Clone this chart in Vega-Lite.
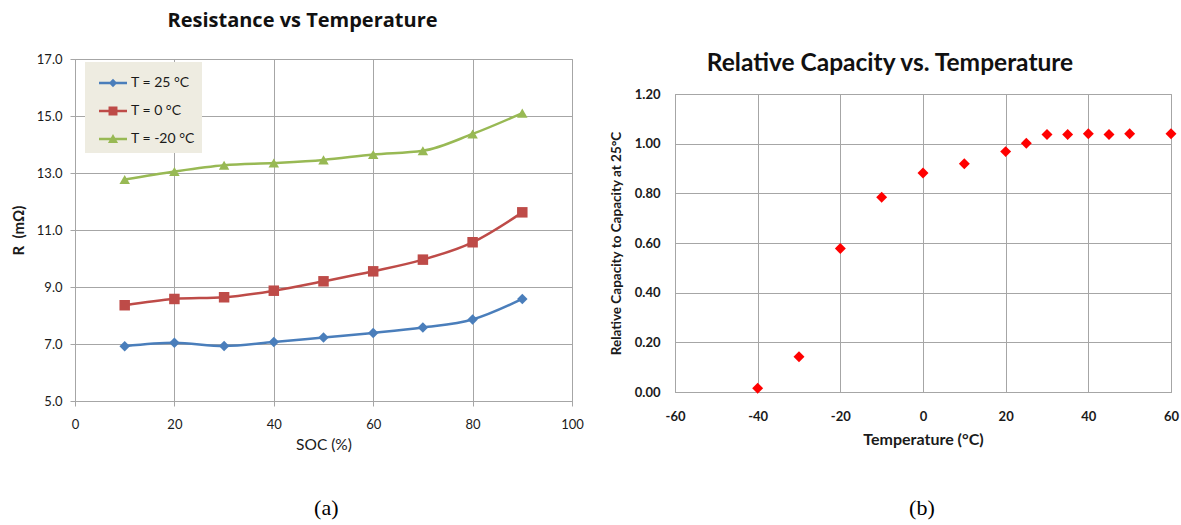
{
  "$schema": "https://vega.github.io/schema/vega-lite/v6.json",
  "background": "white",
  "padding": {"left": 10, "top": 3, "right": 1, "bottom": 1},
  "spacing": 24,
  "config": {
    "font": "Lato",
    "view": {"stroke": "#a6a6a6", "strokeWidth": 1},
    "axis": {"gridColor": "#a6a6a6", "domainColor": "#a6a6a6", "tickColor": "#a6a6a6", "gridOpacity": 1, "labelColor": "#1a1a1a", "titleColor": "#1a1a1a", "labelFont": "Lato", "titleFont": "Lato", "labelFlush": false}
  },
  "hconcat": [
    {
      "title": {"text": "(a)", "orient": "bottom", "font": "Liberation Serif", "fontSize": 22, "fontWeight": "normal", "offset": 45, "anchor": "middle", "dx": 29, "color": "#000"},
      "spacing": 0,
      "vconcat": [
        {
          "width": 497,
          "height": 1,
          "view": {"stroke": null},
          "data": {"values": [{}]},
          "mark": {"type": "point", "opacity": 0}
        },
        {
          "width": 497,
          "height": 342,
          "title": {"text": "Resistance vs Temperature", "fontSize": 20, "fontWeight": "bold", "offset": 22, "color": "#111", "font": "Open Sans", "anchor": "middle", "frame": "group", "dx": -21},
          "data": {"values": [
            {"soc": 10, "r": 6.92, "series": "T = 25 °C"},
            {"soc": 20, "r": 7.04, "series": "T = 25 °C"},
            {"soc": 30, "r": 6.93, "series": "T = 25 °C"},
            {"soc": 40, "r": 7.07, "series": "T = 25 °C"},
            {"soc": 50, "r": 7.23, "series": "T = 25 °C"},
            {"soc": 60, "r": 7.39, "series": "T = 25 °C"},
            {"soc": 70, "r": 7.58, "series": "T = 25 °C"},
            {"soc": 80, "r": 7.86, "series": "T = 25 °C"},
            {"soc": 90, "r": 8.58, "series": "T = 25 °C"},
            {"soc": 10, "r": 8.36, "series": "T = 0 °C"},
            {"soc": 20, "r": 8.58, "series": "T = 0 °C"},
            {"soc": 30, "r": 8.64, "series": "T = 0 °C"},
            {"soc": 40, "r": 8.87, "series": "T = 0 °C"},
            {"soc": 50, "r": 9.2, "series": "T = 0 °C"},
            {"soc": 60, "r": 9.55, "series": "T = 0 °C"},
            {"soc": 70, "r": 9.96, "series": "T = 0 °C"},
            {"soc": 80, "r": 10.57, "series": "T = 0 °C"},
            {"soc": 90, "r": 11.62, "series": "T = 0 °C"},
            {"soc": 10, "r": 12.77, "series": "T = -20 °C"},
            {"soc": 20, "r": 13.05, "series": "T = -20 °C"},
            {"soc": 30, "r": 13.27, "series": "T = -20 °C"},
            {"soc": 40, "r": 13.35, "series": "T = -20 °C"},
            {"soc": 50, "r": 13.46, "series": "T = -20 °C"},
            {"soc": 60, "r": 13.65, "series": "T = -20 °C"},
            {"soc": 70, "r": 13.78, "series": "T = -20 °C"},
            {"soc": 80, "r": 14.37, "series": "T = -20 °C"},
            {"soc": 90, "r": 15.1, "series": "T = -20 °C"}
          ]},
          "encoding": {
            "x": {"field": "soc", "type": "quantitative", "scale": {"domain": [0, 100], "nice": false},
              "axis": {"values": [0, 20, 40, 60, 80, 100], "title": "SOC (%)", "labelFontSize": 13, "titleFontSize": 15.5, "titleFontWeight": "normal", "tickSize": 5, "labelPadding": 12, "titlePadding": 6}},
            "y": {"field": "r", "type": "quantitative", "scale": {"domain": [5, 17], "nice": false},
              "axis": {"values": [5, 7, 9, 11, 13, 15, 17], "format": ".1f", "title": "R \u00a0(mΩ)", "labelFontSize": 13, "titleFontSize": 15, "titleFontWeight": "bold", "tickSize": 5, "labelPadding": 8, "titlePadding": 10}}
          },
          "layer": [
            {
              "mark": {"type": "line", "interpolate": "monotone", "strokeWidth": 2.5},
              "encoding": {
                "color": {"field": "series", "type": "nominal",
                  "scale": {"domain": ["T = 25 °C", "T = 0 °C", "T = -20 °C"], "range": ["#4A7EBB", "#BE4B48", "#98B954"]},
                  "legend": null}
              }
            },
            {
              "mark": {"type": "point", "filled": true, "opacity": 1, "size": 110, "strokeWidth": 0},
              "encoding": {
                "color": {"field": "series", "type": "nominal",
                  "scale": {"domain": ["T = 25 °C", "T = 0 °C", "T = -20 °C"], "range": ["#4A7EBB", "#BE4B48", "#98B954"]},
                  "legend": null},
                "shape": {"field": "series", "type": "nominal",
                  "scale": {"domain": ["T = 25 °C", "T = 0 °C", "T = -20 °C"], "range": ["diamond", "square", "triangle-up"]},
                  "legend": null}
              }
            },
            {
              "data": {"values": []},
              "mark": {"type": "point", "filled": true, "opacity": 1, "size": 784, "strokeWidth": 0},
              "encoding": {
                "color": {"field": "series", "type": "nominal",
                  "scale": {"domain": ["T = 25 °C", "T = 0 °C", "T = -20 °C"], "range": ["#4A7EBB", "#BE4B48", "#98B954"]},
                  "legend": {"title": null, "orient": "none", "legendX": 10, "legendY": 3, "direction": "vertical", "fillColor": "#EEECE1", "padding": 7, "symbolOffset": 7, "labelFontSize": 14, "labelFont": "Lato", "labelColor": "#1a1a1a", "symbolSize": 784, "rowPadding": 7, "labelOffset": 4, "symbolStrokeWidth": 0, "symbolOpacity": 1}},
                "shape": {"field": "series", "type": "nominal",
                  "scale": {"domain": ["T = 25 °C", "T = 0 °C", "T = -20 °C"], "range": ["M-1,-0.09H1V0.09H-1ZM0,-0.3L0.3,0L0,0.3L-0.3,0Z", "M-1,-0.09H1V0.09H-1ZM-0.32,-0.32H0.32V0.32H-0.32Z", "M-1,-0.09H1V0.09H-1ZM0,-0.36L0.36,0.28H-0.36Z"]},
                  "legend": {"title": null, "orient": "none", "legendX": 10, "legendY": 3, "direction": "vertical", "fillColor": "#EEECE1", "padding": 7, "symbolOffset": 7, "labelFontSize": 14, "labelFont": "Lato", "labelColor": "#1a1a1a", "symbolSize": 784, "rowPadding": 7, "labelOffset": 4, "symbolStrokeWidth": 0, "symbolOpacity": 1}}
              }
            }
          ],
          "resolve": {"scale": {"shape": "independent", "color": "independent"}}
        }
      ]
    },
    {
      "title": {"text": "(b)", "orient": "bottom", "font": "Liberation Serif", "fontSize": 22, "fontWeight": "normal", "offset": 50, "anchor": "middle", "dx": 28, "color": "#000"},
      "spacing": 40,
      "vconcat": [
        {
          "width": 496,
          "height": 1,
          "view": {"stroke": null},
          "data": {"values": [{}]},
          "mark": {"type": "point", "opacity": 0}
        },
        {
          "width": 496,
          "height": 298,
          "title": {"text": "Relative Capacity vs. Temperature", "fontSize": 24.5, "fontWeight": "bold", "offset": 12, "color": "#111", "font": "Lato", "anchor": "middle", "frame": "group", "dx": -33},
          "data": {"values": [
            {"temp": -40, "cap": 0.015},
            {"temp": -30, "cap": 0.142},
            {"temp": -20, "cap": 0.578},
            {"temp": -10, "cap": 0.784},
            {"temp": 0, "cap": 0.882},
            {"temp": 10, "cap": 0.919},
            {"temp": 20, "cap": 0.968},
            {"temp": 25, "cap": 1.002},
            {"temp": 30, "cap": 1.037},
            {"temp": 35, "cap": 1.037},
            {"temp": 40, "cap": 1.04},
            {"temp": 45, "cap": 1.037},
            {"temp": 50, "cap": 1.04},
            {"temp": 60, "cap": 1.04}
          ]},
          "mark": {"type": "point", "shape": "diamond", "filled": true, "color": "#FF0000", "size": 120, "opacity": 1},
          "encoding": {
            "x": {"field": "temp", "type": "quantitative", "scale": {"domain": [-60, 60], "nice": false},
              "axis": {"values": [-60, -40, -20, 0, 20, 40, 60], "labelExpr": "replace(datum.label, '−', '-')", "title": "Temperature (°C)", "ticks": false, "labelFontSize": 13, "labelFontWeight": "bold", "titleFontSize": 16, "titleFontWeight": "bold", "labelPadding": 18, "titlePadding": 8}},
            "y": {"field": "cap", "type": "quantitative", "scale": {"domain": [0, 1.2], "nice": false},
              "axis": {"values": [0, 0.2, 0.4, 0.6, 0.8, 1.0, 1.2], "format": ".2f", "title": "Relative Capacity to Capacity at 25°C", "ticks": false, "labelFontSize": 13, "labelFontWeight": "bold", "titleFontSize": 13.5, "titleFontWeight": "bold", "labelPadding": 15, "titlePadding": 11}}
          }
        }
      ]
    }
  ]
}
